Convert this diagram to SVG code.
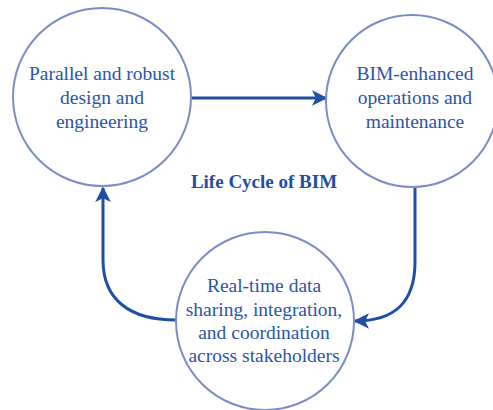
<svg xmlns="http://www.w3.org/2000/svg" width="493" height="410" viewBox="0 0 493 410">
  <style>
    .node circle { fill: #ffffff; stroke: #7d8cc6; stroke-width: 2; }
    .node text { font-family: "Liberation Serif", "Times New Roman", serif; font-size: 19.5px; fill: #2b55a6; text-anchor: middle; }
    .title { font-family: "Liberation Serif", "Times New Roman", serif; font-size: 19px; font-weight: bold; fill: #1f4ea3; text-anchor: middle; }
    .edge { fill: none; stroke: #1f4ea3; stroke-width: 3; marker-end: url(#arrow); }
  </style>
  <defs>
    <marker id="arrow" viewBox="0 0 10 10" refX="9" refY="5" markerWidth="5.2" markerHeight="5.2" markerUnits="strokeWidth" orient="auto">
      <path d="M0,0 L10,5 L0,10 L2.5,5 z" fill="#1f4ea3"/>
    </marker>
  </defs>
  <rect width="493" height="410" fill="#ffffff"/>

  <g id="connectors">
    <path class="edge" d="M192,98 L326,98"/>
    <path class="edge" d="M415,188 L415,262 C415,302 395,321 355,321"/>
    <path class="edge" d="M176,320 C130,320 103,300 103,260 L103,188"/>
  </g>

  <g id="design" class="node">
    <circle cx="102" cy="97" r="89"/>
    <text x="102" y="80">Parallel and robust</text>
    <text x="102" y="104">design and</text>
    <text x="102" y="128">engineering</text>
  </g>

  <g id="operations" class="node">
    <circle cx="412" cy="101" r="86"/>
    <text x="415" y="80">BIM-enhanced</text>
    <text x="415" y="104">operations and</text>
    <text x="415" y="128">maintenance</text>
  </g>

  <g id="sharing" class="node">
    <circle cx="265" cy="321" r="89"/>
    <text x="264" y="292">Real-time data</text>
    <text x="264" y="316">sharing, integration,</text>
    <text x="264" y="339">and coordination</text>
    <text x="264" y="362">across stakeholders</text>
  </g>

  <text class="title" x="264" y="188">Life Cycle of BIM</text>
</svg>
